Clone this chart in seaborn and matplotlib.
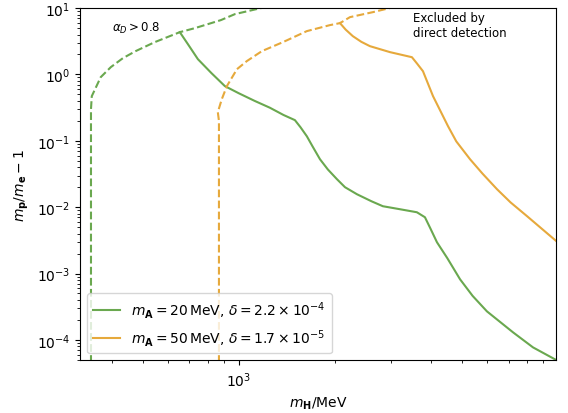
import numpy as np
import pandas as pd
import matplotlib
matplotlib.use('Agg')
import matplotlib.pyplot as plt
import seaborn as sns

# colours of the two benchmark points
green = '#6aa84f'
orange = '#e6a93c'

# m_A = 20 MeV: alpha_D > 0.8 boundary (dashed)
g_dash_x = [344, 344, 346, 369, 397, 433, 475, 545, 653, 728, 878, 972, 1172, 1250]
g_dash_y = [4.5e-5, 0.30, 0.471, 0.91, 1.29, 1.76, 2.25, 3.07, 4.34, 4.99, 6.59, 8.12, 10.0, 10.6]

# m_A = 20 MeV: direct detection (solid)
g_x = [653, 692, 744, 820, 904, 1000, 1120, 1251, 1380, 1498, 1560, 1633, 1700, 1795, 1900,
       2029, 2150, 2344, 2600, 2826, 3200, 3612, 3828, 3980, 4175, 4500, 4932, 5400, 5987,
       7226, 8350, 9790]
g_y = [4.34, 2.87, 1.70, 1.05, 0.667, 0.52, 0.40, 0.315, 0.245, 0.205, 0.16, 0.117, 0.083,
       0.0528, 0.037, 0.0264, 0.020, 0.01566, 0.0123, 0.01033, 0.0093, 0.00838, 0.00705,
       0.0048, 0.00296, 0.0017, 8.18e-4, 4.6e-4, 2.69e-4, 1.30e-4, 7.7e-5, 5.08e-5]

# m_A = 50 MeV: alpha_D > 0.8 boundary (dashed)
o_dash_x = [866, 866, 859, 884, 917, 986, 1059, 1181, 1374, 1633, 1928, 2074, 2229, 2632, 3040, 3200]
o_dash_y = [4.5e-5, 0.20, 0.27, 0.424, 0.667, 1.20, 1.59, 2.25, 3.07, 4.50, 5.54, 5.94, 7.31,
            8.7, 10.3, 10.8]

# m_A = 50 MeV: direct detection (solid)
o_x = [2074, 2160, 2275, 2420, 2574, 2975, 3485, 3620, 3774, 4058, 4522, 4800, 5300, 5800,
       6442, 7100, 8000, 9860]
o_y = [5.94, 4.75, 3.78, 3.10, 2.67, 2.17, 1.82, 1.45, 1.12, 0.471, 0.166, 0.098, 0.0528,
       0.032, 0.0186, 0.0118, 0.0073, 0.0031]

labels = [r'$m_\mathbf{A} = 20\,\mathrm{MeV}$, $\delta = 2.2\times10^{-4}$',
          r'$m_\mathbf{A} = 50\,\mathrm{MeV}$, $\delta = 1.7\times10^{-5}$']

fig, ax = plt.subplots(figsize=(5.68, 4.14), dpi=100)
fig.subplots_adjust(left=0.141, right=0.979, top=0.978, bottom=0.127)

sns.lineplot(x=g_x, y=g_y, color=green, lw=1.5, sort=False, estimator=None,
             label=labels[0], ax=ax)
sns.lineplot(x=o_x, y=o_y, color=orange, lw=1.5, sort=False, estimator=None,
             label=labels[1], ax=ax)
sns.lineplot(x=g_dash_x, y=g_dash_y, color=green, lw=1.5, ls='--', sort=False,
             estimator=None, ax=ax)
sns.lineplot(x=o_dash_x, y=o_dash_y, color=orange, lw=1.5, ls='--', sort=False,
             estimator=None, ax=ax)

ax.set_xscale('log')
ax.set_yscale('log')
ax.set_xlim(318, 9860)
ax.set_ylim(4.9e-5, 10)

ax.text(400, 5.1, r'$\alpha_D > 0.8$', fontsize=8.5, va='center', ha='left')
ax.text(3500, 9.0, 'Excluded by\ndirect detection', fontsize=8.5, va='top', ha='left')

ax.set_xlabel(r'$m_\mathbf{H}$/MeV')
ax.set_ylabel(r'$m_\mathbf{p}/m_\mathbf{e} - 1$')
ax.legend(loc='lower left', fontsize=10)

fig.savefig('out.png', dpi=100)
